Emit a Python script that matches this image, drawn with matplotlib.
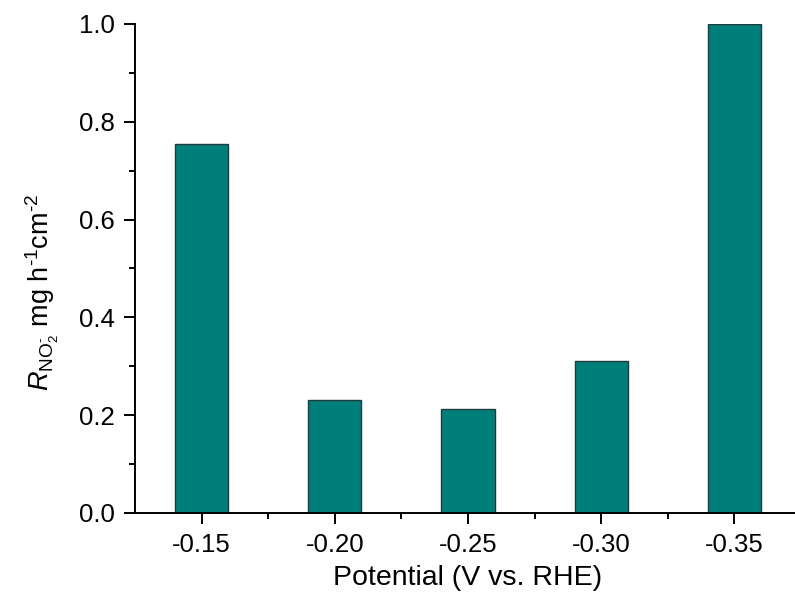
import matplotlib
matplotlib.use("Agg")
import matplotlib.pyplot as plt
import numpy as np
from matplotlib.ticker import MultipleLocator, FixedLocator, FormatStrFormatter

potentials = ["-0.15", "-0.20", "-0.25", "-0.30", "-0.35"]
rates = [0.755, 0.232, 0.213, 0.310, 1.000]

plt.rcParams["font.family"] = ["Liberation Sans", "DejaVu Sans"]
plt.rcParams["mathtext.fontset"] = "custom"
plt.rcParams["mathtext.rm"] = "Liberation Sans"
plt.rcParams["mathtext.it"] = "Liberation Sans:italic"

fig = plt.figure(figsize=(7.95, 5.99), dpi=100)
ax = fig.add_axes([135 / 795, 1 - 513 / 599, 666 / 795, 489 / 599])

x = np.arange(len(potentials))
ax.bar(x, rates, width=0.4, color="#007f7a", edgecolor="#1f3b3b", linewidth=1.0, zorder=2)

ax.set_xlim(-0.5, len(potentials) - 0.5)
ax.set_ylim(0, 1.0)
ax.set_xticks(x)
ax.set_xticklabels(potentials)
ax.xaxis.set_minor_locator(FixedLocator(x[:-1] + 0.5))
ax.yaxis.set_major_locator(MultipleLocator(0.2))
ax.yaxis.set_minor_locator(MultipleLocator(0.1))
ax.yaxis.set_major_formatter(FormatStrFormatter("%.1f"))

for side in ("top", "right"):
    ax.spines[side].set_visible(False)
for side in ("left", "bottom"):
    ax.spines[side].set_linewidth(1.4)

ax.tick_params(which="major", direction="out", length=8, width=1.4, labelsize=18.5, pad=6.5)
ax.tick_params(which="minor", direction="out", length=4, width=1.4)

ax.set_xlabel("Potential (V vs. RHE)", fontsize=20.5, labelpad=6)
ax.set_ylabel(r"$\mathit{R}_{\mathrm{NO}_2^{\text{-}}}$ mg h$^{\text{-}1}$cm$^{\text{-}2}$",
              fontsize=19.5, labelpad=13)
ax.yaxis.label.set_y(0.45)

fig.savefig("out.png", dpi=100)
